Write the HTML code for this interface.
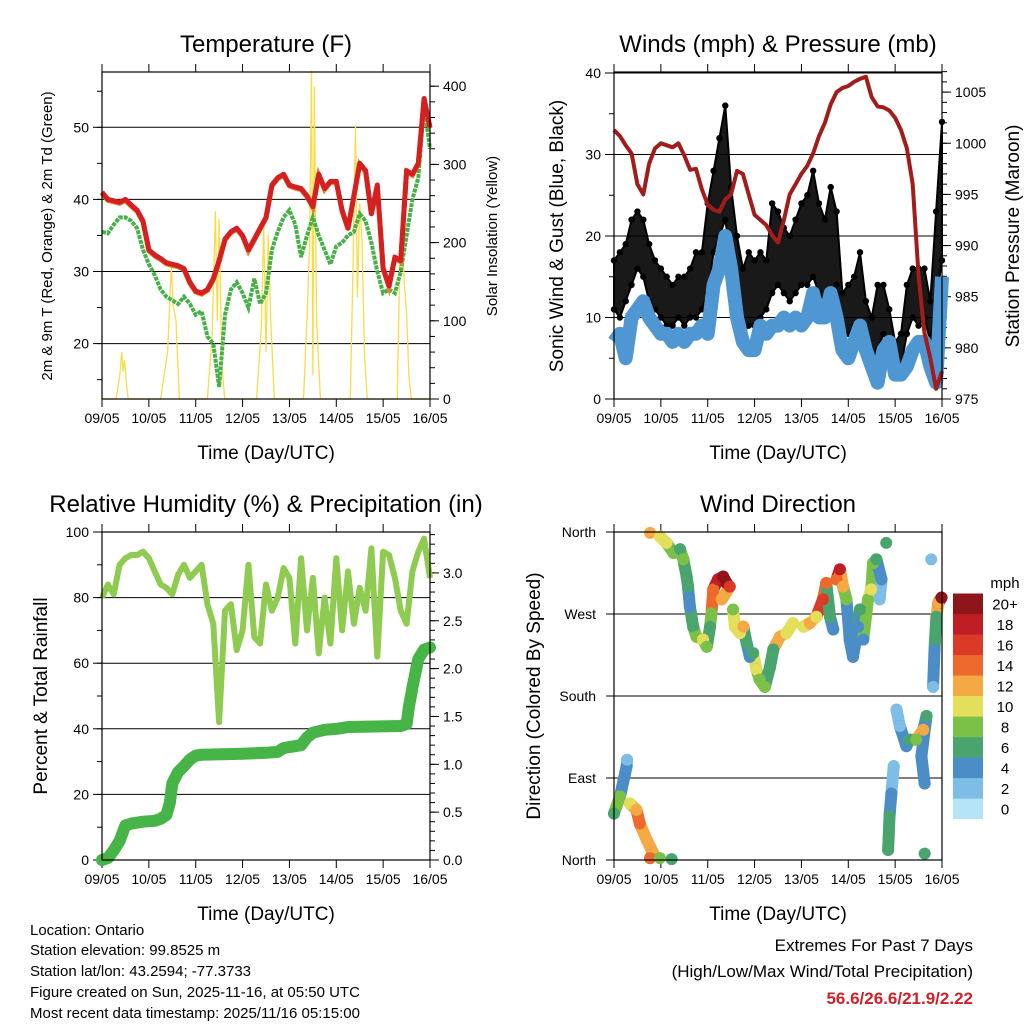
<!DOCTYPE html>
<html><head><meta charset="utf-8"><style>
html,body{margin:0;padding:0;background:#fff}
svg{display:block;font-family:"Liberation Sans",sans-serif}
</style></head><body>
<svg id="c" width="1024" height="1024" viewBox="0 0 1024 1024">
<g id="g"></g>
<g font-size="15" fill="#000">
<text x="30" y="935">Location: Ontario</text>
<text x="30" y="955">Station elevation: 99.8525 m</text>
<text x="30" y="976">Station lat/lon: 43.2594; -77.3733</text>
<text x="30" y="997">Figure created on Sun, 2025-11-16, at 05:50 UTC</text>
<text x="30" y="1018">Most recent data timestamp: 2025/11/16 05:15:00</text>
</g>
<g text-anchor="end">
<text x="973" y="951" font-size="17">Extremes For Past 7 Days</text>
<text x="973" y="977" font-size="17">(High/Low/Max Wind/Total Precipitation)</text>
<text x="973" y="1004" font-size="17" font-weight="bold" fill="#cc2229">56.6/26.6/21.9/2.22</text>
</g>
</svg>
<script>
const dayLabels=["09/05","10/05","11/05","12/05","13/05","14/05","15/05","16/05"];
const tempT=[41.0,40.0,39.8,39.6,40.0,39.2,38.5,37.0,33.0,32.3,31.8,31.2,31.0,30.8,30.4,28.5,27.3,27.0,27.5,29.0,31.5,34.5,35.5,36.0,35.0,33.0,34.5,36.0,37.5,42.0,43.0,43.5,42.0,41.7,41.5,40.5,39.0,43.5,41.5,42.5,42.5,38.5,36.0,40.5,45.0,44.0,38.0,42.0,30.5,28.0,32.0,31.5,44.0,43.5,45.0,54.0,50.0];
const tempTd=[35.5,35.3,36.5,37.5,37.5,37.0,36.0,33.0,31.0,29.5,27.5,26.5,26.0,25.5,26.5,25.5,24.0,24.5,21.0,20.0,14.0,24.0,27.5,28.5,27.0,25.0,29.0,25.5,27.0,33.0,35.5,37.5,38.5,36.5,32.0,35.0,37.5,35.0,33.0,31.0,33.5,34.0,35.0,35.5,38.0,37.0,34.0,30.0,27.0,27.5,27.0,30.0,35.0,40.0,43.0,53.0,47.0];
const solarT=[0,0.3,0.38,0.42,0.45,0.48,0.52,0.56,1.25,1.4,1.48,1.52,1.58,1.65,2.25,2.35,2.42,2.46,2.5,2.56,2.62,3.3,3.4,3.45,3.5,3.55,3.6,3.68,4.3,4.38,4.43,4.47,4.5,4.53,4.58,4.66,5.3,5.36,5.41,5.45,5.5,5.55,5.6,5.66,6.3,6.36,6.4,6.45,6.5,6.55,6.6,7];
const solarV=[0,0,30,60,35,50,20,0,0,60,170,120,100,0,0,80,240,100,230,40,0,0,90,220,60,210,100,0,0,110,200,420,30,400,100,0,0,180,350,130,250,200,60,0,0,190,220,150,110,30,0,0];
const windSus=[7,8,5,10,11,12,10,9,8,8,7,8,7,8,8,9,8,14,16,20,16,10,7,6,6,9,8,9,9,10,9,10,9,10,13,10,10,13,10,6,5,7,9,6,4,2,6,7,3,3,4,6,7,7,4,2,15];
const gustLo=[11,10,12,14,16,15,12,11,10,9,9,10,9,10,10,11,13,18,20,22,17,12,8,9,9,10,11,13,14,13,12,13,14,14,15,13,12,13,14,7,8,9,8,6,5,6,8,6,3,4,8,10,9,10,7,12,17];
const gustHi=[17,18,19,22,23,22,19,17,16,15,14,15,15,16,18,18,24,28,32,36,26,20,16,18,17,18,17,24,23,21,20,22,24,25,28,24,22,26,23,13,14,15,18,12,10,14,14,11,7,8,14,16,16,16,12,23,34];
const pressure=[1001.3,1000.7,999.8,999.0,996.0,995.0,998.0,999.5,1000.0,999.8,999.6,1000.0,998.8,997.4,997.5,995.5,994.0,993.5,993.3,994.5,995.0,997.3,997.0,995.0,993.0,992.5,992.0,991.0,990.3,992.5,995.0,996.0,997.0,997.8,999.0,1000.7,1002.0,1003.8,1005.0,1005.4,1005.6,1006.0,1006.3,1006.5,1004.5,1003.6,1003.5,1003.2,1002.5,1001.3,999.5,996.0,987.0,981.5,979.0,976.0,977.7];
const rh=[80,84,81,90,92,93,93,94,92,88,84,83,81,87,90,86,88,90,78,72,42,76,78,64,70,90,68,66,84,76,80,89,86,66,92,70,86,63,80,66,92,70,88,72,83,76,95,62,94,93,86,76,72,88,94,98,86];
const precipT=[0,0.125,0.25,0.375,0.5,0.625,0.875,1.125,1.25,1.375,1.45,1.5,1.625,1.75,1.875,2.0,2.125,3.0,3.5,3.75,3.875,4.0,4.25,4.375,4.5,4.75,5.0,5.25,6.375,6.5,6.55,6.625,6.75,6.875,7.0];
const precipV=[0,0.02,0.1,0.2,0.36,0.38,0.4,0.41,0.43,0.47,0.6,0.8,0.92,0.98,1.05,1.09,1.1,1.11,1.12,1.13,1.17,1.18,1.2,1.28,1.33,1.36,1.37,1.39,1.4,1.42,1.6,1.8,2.1,2.2,2.22];
const dirT=[0,0.13,0.27,0.28,0.34,0.48,0.55,0.70,0.84,0.77,0.98,1.23,0.77,0.98,1.12,1.27,1.41,1.48,1.55,1.58,1.62,1.69,1.76,1.90,1.98,2.05,2.08,2.12,2.22,2.33,2.40,2.47,2.30,2.54,2.58,2.69,2.76,2.83,2.90,2.97,3.04,3.11,3.22,3.33,3.40,3.54,3.68,3.82,4.04,4.18,4.32,4.46,4.53,4.61,4.68,4.75,4.82,4.89,4.96,5.03,5.10,5.21,5.25,5.32,5.42,5.49,5.53,5.60,5.71,5.67,5.81,5.85,5.88,5.92,5.97,6.03,6.10,6.24,6.31,6.45,6.60,6.67,6.56,6.63,6.63,6.77,6.81,6.84,6.88,6.92,6.99];
const dirV=[51,70,103,110,62,55,40,22,7,2,2,1,359,355,348,337,341,330,311,300,278,256,245,242,234,256,271,297,308,311,304,300,286,275,256,249,256,238,223,227,209,198,190,212,231,245,249,260,256,260,267,286,304,267,253,308,319,300,286,242,223,256,275,242,286,297,326,330,308,286,348,11,48,73,103,165,147,125,132,132,143,158,114,84,7,330,190,231,267,282,288];
const dirS=[6,7,4,2,10,12,14,12,12,14,8,6,12,10,10,8,6,8,6,6,4,6,8,10,8,6,8,14,18,20,20,16,12,8,10,10,12,6,4,6,10,8,8,6,6,12,10,10,10,12,10,16,14,6,4,14,18,12,8,4,4,4,6,4,8,10,8,6,4,2,6,6,6,4,2,2,2,4,6,8,12,6,4,4,6,2,2,4,6,12,20];
const cbLabels=["0","2","4","6","8","10","12","14","16","18","20+"];
const cbColors=["#b5e4f7","#7ebde6","#4b8dc6","#49a56d","#7bc148","#e4df5a","#f5a944","#ee6a2c","#dc3a29","#be1e24","#8e1519"];

const NS="http://www.w3.org/2000/svg";
const root=document.getElementById('g');
function el(tag,attrs,parent,txt){const e=document.createElementNS(NS,tag);for(const k in attrs)e.setAttribute(k,attrs[k]);if(txt!==undefined)e.textContent=txt;(parent||root).appendChild(e);return e;}
function pts(xs,ys,fx,fy){return xs.map((x,i)=>fx(x).toFixed(1)+','+fy(ys[i]).toFixed(1)).join(' ');}
const tIdx=tempT.map((_,i)=>i*0.125);

function frame(p,name,title){
  const g=el('g',{});
  
  
  const t=el('text',{x:(p.x0+p.x1)/2,y:p.y0-20,'font-size':24,'text-anchor':'middle'},g,title);
  
  
  const xt2=el('text',{x:(p.x0+p.x1)/2,y:p.y1+60,'font-size':19,'text-anchor':'middle'},g,'Time (Day/UTC)');
  
  
  dayLabels.forEach((d,i)=>{
    const x=p.x0+i*(p.x1-p.x0)/7;
    el('line',{x1:x,x2:x,y1:p.y1,y2:p.y1+8,stroke:'#000'},g);
    el('line',{x1:x,x2:x,y1:p.y0,y2:p.y0-8,stroke:'#000'},g);
    const lb=el('text',{x:x,y:p.y1+24,'font-size':14,'text-anchor':'middle'},g,d);
    
    
  });
  return g;
}
function box(p,g){el('rect',{x:p.x0,y:p.y0,width:p.x1-p.x0,height:p.y1-p.y0,fill:'none',stroke:'#000','stroke-width':1.2},g);}
function axis(p,g,side,min,max,step,minor,fy,fmt,grid,mmin,mmax){
  const xa=side==='l'?p.x0:p.x1, d=side==='l'?-1:1;
  for(let v=mmin;v<=mmax+1e-9;v+=minor){const y=fy(v);if(y<p.y0-0.5||y>p.y1+0.5)continue;el('line',{x1:xa,x2:xa+d*5,y1:y,y2:y,stroke:'#000'},g);}
  for(let v=min;v<=max+1e-9;v+=step){const y=fy(v);if(y<p.y0-0.5||y>p.y1+0.5)continue;
    el('line',{x1:xa,x2:xa+d*9,y1:y,y2:y,stroke:'#000'},g);
    if(grid)el('line',{x1:p.x0,x2:p.x1,y1:y,y2:y,stroke:'#000','stroke-width':1},g);
    const lb=el('text',{x:xa+d*13,y:y+5,'font-size':14,'text-anchor':side==='l'?'end':'start'},g,fmt(v));
    
    }
}
function ytitle(x,y,txt,size,g,name){const t=el('text',{x:0,y:0,'font-size':size,'text-anchor':'middle',transform:`translate(${x},${y}) rotate(-90)`},g,txt);
  
  }

// Panel 1 Temperature
{const p={x0:102,x1:430,y0:72,y1:399};const fx=d=>p.x0+d*(p.x1-p.x0)/7;
 const fy=v=>127.3+(50-v)*7.21, fs=v=>p.y1-v*0.782;
 const g=frame(p,'temperature-panel','Temperature (F)');
 axis(p,g,'l',20,50,10,5,fy,v=>v,true,15,55);
 axis(p,g,'r',0,400,100,20,fs,v=>v,false,0,420);
 const s=el('polyline',{points:pts(solarT,solarV,fx,fs),fill:'none',stroke:'#f8dc48','stroke-width':1.3},g);
 
 
 const td=el('polyline',{points:pts(tIdx,tempTd,fx,fy),fill:'none',stroke:'#47b047','stroke-width':4,'stroke-dasharray':'4 1'},g);
 
 
 const t9=el('polyline',{points:pts(tIdx,tempT,fx,v=>fy(v)+1),fill:'none',stroke:'#ef7d28','stroke-width':5},g);
 
 
 const t2=el('polyline',{points:pts(tIdx,tempT,fx,fy),fill:'none',stroke:'#d42020','stroke-width':5,'stroke-linejoin':'round'},g);
 
 
 box(p,g);
 ytitle(52,236,'2m & 9m T (Red, Orange) & 2m Td (Green)',15,g,'y-axis-title');
 ytitle(497,236,'Solar Insolation (Yellow)',15,g,'y2-axis-title');
}
// Panel 2 Winds
{const p={x0:614,x1:942,y0:72,y1:399};const fx=d=>p.x0+d*(p.x1-p.x0)/7;
 const fw=v=>p.y1-v*8.15, fp=v=>p.y1-(v-975)*10.23;
 const g=frame(p,'winds-panel','Winds (mph) & Pressure (mb)');
 axis(p,g,'l',0,40,10,5,fw,v=>v,true,0,40);
 axis(p,g,'r',975,1005,5,1,fp,v=>v,false,975,1007);
 const poly=pts(tIdx,gustHi,fx,fw)+' '+pts(tIdx.slice().reverse(),gustLo.slice().reverse(),fx,fw);
 const gb=el('polygon',{points:poly,fill:'#000','fill-opacity':0.9,stroke:'#000','stroke-width':2,'stroke-linejoin':'round'},g);
 
 
 tIdx.forEach((d,i)=>{[gustHi[i],gustLo[i]].forEach(v=>{const c=el('circle',{cx:fx(d),cy:fw(v),r:3.2,fill:'#000'},g);
   
   });});
 const ws=el('polyline',{points:pts(tIdx,windSus,fx,fw),fill:'none',stroke:'#4f97d2','stroke-width':14,'stroke-linejoin':'round'},g);
 
 
 const pr=el('polyline',{points:pts(tIdx,pressure,fx,fp),fill:'none',stroke:'#a31c1c','stroke-width':4,'stroke-linejoin':'round'},g);
 
 
 box(p,g);
 ytitle(563,236,'Sonic Wind & Gust (Blue, Black)',19,g,'y-axis-title');
 ytitle(1019,236,'Station Pressure (Maroon)',19,g,'y2-axis-title');
}
// Panel 3 RH
{const p={x0:102,x1:430,y0:532,y1:860};const fx=d=>p.x0+d*(p.x1-p.x0)/7;
 const fr=v=>p.y1-v*3.28, fq=v=>p.y1-v*95.7;
 const g=frame(p,'humidity-panel','Relative Humidity (%) & Precipitation (in)');
 axis(p,g,'l',0,100,20,10,fr,v=>v,true,0,100);
 axis(p,g,'r',0,3.0,0.5,0.1,fq,v=>v.toFixed(1),false,0,3.4);
 const r=el('polyline',{points:pts(tIdx,rh,fx,fr),fill:'none',stroke:'#8fcb50','stroke-width':6,'stroke-linejoin':'round'},g);
 
 
 const q=el('polyline',{points:pts(precipT,precipV,fx,fq),fill:'none',stroke:'#46b446','stroke-width':12,'stroke-linejoin':'round','stroke-linecap':'round'},g);
 
 
 box(p,g);
 ytitle(47,696,'Percent & Total Rainfall',19,g,'y-axis-title');
}
// Panel 4 Direction
{const p={x0:614,x1:942,y0:532,y1:860};const fx=d=>p.x0+d*(p.x1-p.x0)/7;
 const fd=v=>p.y1-v*(p.y1-p.y0)/360;
 const g=frame(p,'wind-direction-panel','Wind Direction');
 ["North","East","South","West","North"].forEach((n,i)=>{const y=fd(i*90);
   el('line',{x1:p.x0-8,x2:p.x1,y1:y,y2:y,stroke:'#000'},g);
   const lb=el('text',{x:p.x0-18,y:y+5,'font-size':14,'text-anchor':'end'},g,n);
   
   });
 const col=s=>cbColors[Math.min(10,Math.max(0,Math.round(s/2)))];
 for(let i=1;i<dirT.length;i++){if(Math.abs(dirT[i]-dirT[i-1])<0.2&&Math.abs(dirV[i]-dirV[i-1])<45){
   el('line',{x1:fx(dirT[i-1]),y1:fd(dirV[i-1]),x2:fx(dirT[i]),y2:fd(dirV[i]),stroke:col(dirS[i]),'stroke-width':12,'stroke-linecap':'round'},g);}}
 dirT.forEach((d,i)=>{const c=el('circle',{cx:fx(d),cy:fd(dirV[i]),r:6,fill:col(dirS[i])},g);
   
   });
 box(p,g);
 ytitle(540,696,'Direction (Colored By Speed)',19,g,'y-axis-title');
 const cb=el('g',{},g);
 
 
 el('text',{x:1005,y:588,'font-size':15,'text-anchor':'middle'},cb,'mph');
 cbLabels.forEach((l,i)=>{const y=819-(i+1)*20.5;
   el('rect',{x:953,y:y,width:30,height:20.6,fill:cbColors[i]},cb);
   const t=el('text',{x:1005,y:y+16,'font-size':15,'text-anchor':'middle'},cb,l);
   
   });
}
</script>
</body></html>
